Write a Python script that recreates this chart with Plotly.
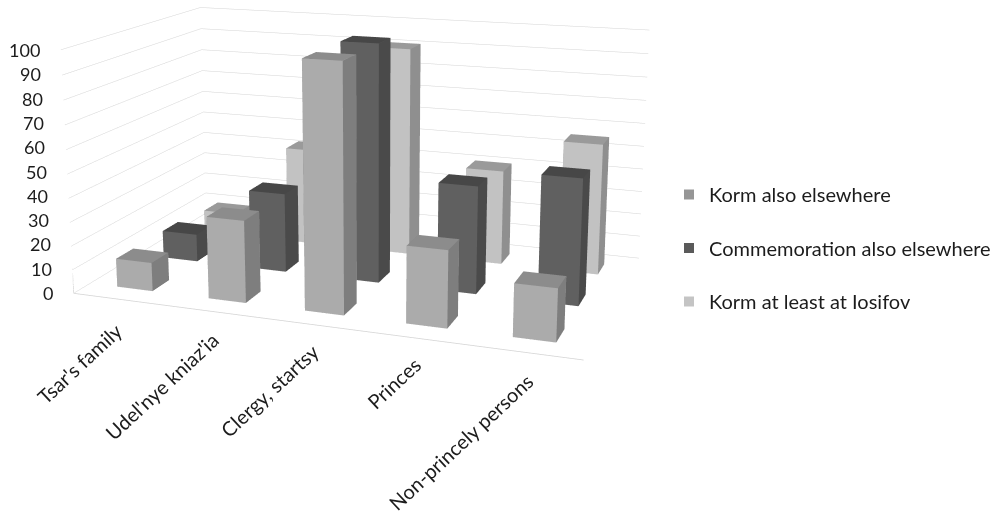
import numpy as np
import plotly.graph_objects as go

categories = ["Tsar's family", "Udel'nye kniaz'ia", "Clergy, startsy", "Princes", "Non-princely persons"]
series_names = ["Korm also elsewhere", "Commemoration also elsewhere", "Korm at least at Iosifov"]
korm_elsewhere = [12, 34, 100, 31, 21]
commemoration = [12, 34, 100, 45, 52]
korm_iosifov = [10, 43, 91, 41, 56]
value_ticks = list(range(0, 101, 10))

X_RANGE = (-0.5, 4.5)
Y_RANGE = (-0.5, 2.5)
Z_RANGE = (0, 100)
BAR_HALF_X = 0.196
BAR_HALF_Y = 0.177

# front, side, top shade of each row and its legend swatch
ROW_SHADES = [("#ababab", "#7e7e7e", "#8c8c8c"), ("#606060", "#4a4a4a", "#474747"), ("#c2c2c2", "#8f8f8f", "#9a9a9a")]
SWATCHES = ["#969696", "#5a5a5a", "#c4c4c4"]
GRID = "#d4d4d4"
FONT = "Lato"
TEXT = "#1c1c1c"

# The scene is taller than the page: its vertical field of view is fixed, so a long
# focal length needs a tall viewport, and the page shows only part of it.
FIG_W, FIG_H = 996, 1172
PAGE_TOP = 444
SCENE_W = 695


def paper(px, py):
    return px / FIG_W, 1 - (py + PAGE_TOP) / FIG_H


def bars(values, row, shades, name):
    xs, ys, zs, i, j, k, colors = [], [], [], [], [], [], []
    front, side, top = shades
    for col, value in enumerate(values):
        n = len(xs)
        for z in (0, value):
            for y in (row - BAR_HALF_Y, row + BAR_HALF_Y):
                for x in (col - BAR_HALF_X, col + BAR_HALF_X):
                    xs.append(x)
                    ys.append(y)
                    zs.append(z)
        faces = [((0, 1, 5), front), ((0, 5, 4), front), ((1, 3, 7), side), ((1, 7, 5), side),
                 ((4, 5, 7), top), ((4, 7, 6), top), ((0, 2, 6), side), ((0, 6, 4), side),
                 ((2, 3, 7), front), ((2, 7, 6), front), ((0, 1, 3), top), ((0, 3, 2), top)]
        for (a, b, c), shade in faces:
            i.append(n + a)
            j.append(n + b)
            k.append(n + c)
            colors.append(shade)
    return go.Mesh3d(x=xs, y=ys, z=zs, i=i, j=j, k=k, facecolor=colors, flatshading=True, name=name,
                     showlegend=False, hoverinfo="skip",
                     lighting=dict(ambient=1, diffuse=0, specular=0, roughness=1, fresnel=0))


fig = go.Figure()
for row, (values, name) in enumerate(zip([korm_elsewhere, commemoration, korm_iosifov], series_names)):
    fig.add_trace(bars(values, row, ROW_SHADES[row], name))
    fig.add_trace(go.Scatter3d(x=[None], y=[None], z=[None], mode="markers", name=name, legendgroup=name,
                               marker=dict(symbol="square", size=10, color=SWATCHES[row])))

# Left upright and the two near edges of the floor
fig.add_trace(go.Scatter3d(x=[X_RANGE[0], X_RANGE[0], X_RANGE[1], X_RANGE[1]],
                           y=[Y_RANGE[0], Y_RANGE[0], Y_RANGE[0], Y_RANGE[1]],
                           z=[Z_RANGE[1], 0, 0, 0], mode="lines",
                           line=dict(color=GRID, width=1.5), showlegend=False, hoverinfo="skip"))

axis = dict(showgrid=False, zeroline=False, showticklabels=False, ticks="", title="",
            showbackground=False, showspikes=False, showline=False)
eye = np.array([1.90262, -5.31442, 1.43437])
forward = np.array([-0.340164, 0.910764, -0.234089])
up = [-0.077592, 0.220901, 0.972205]
center = eye + forward * np.linalg.norm(eye)

tick_labels = [dict(text=str(v), x=paper(55.5 - 0.135 * v, 0)[0], y=paper(0, 293 - 2.43 * v)[1],
                    xanchor="right", yanchor="middle", xref="paper", yref="paper", showarrow=False)
               for v in value_ticks]
label_centres = [(80, 363), (162, 386), (270, 390), (394, 383), (461, 442)]
category_labels = [dict(text=c, x=paper(px, py)[0], y=paper(px, py)[1], xanchor="center", yanchor="middle",
                        textangle=-43, font=dict(size=20), xref="paper", yref="paper", showarrow=False)
                   for c, (px, py) in zip(categories, label_centres)]

legend_x, legend_y = paper(670, 248)
fig.update_layout(
    width=FIG_W, height=FIG_H, margin=dict(l=0, r=0, t=0, b=0), paper_bgcolor="white",
    font=dict(family=FONT, size=18, color=TEXT),
    legend=dict(x=legend_x, y=legend_y, yanchor="middle", tracegroupgap=24.5, bgcolor="rgba(0,0,0,0)",
                font=dict(size=20)),
    annotations=tick_labels + category_labels,
    scene=dict(
        domain=dict(x=[0, SCENE_W / FIG_W], y=[0, 1]),
        dragmode="orbit",
        xaxis=dict(axis, range=list(X_RANGE)),
        yaxis=dict(axis, range=list(Y_RANGE)),
        zaxis=dict(axis, range=list(Z_RANGE), showgrid=True, gridcolor=GRID, gridwidth=1, tickvals=value_ticks),
        aspectmode="manual", aspectratio=dict(x=2.0795, y=1.2244, z=1),
        camera=dict(eye=dict(x=eye[0], y=eye[1], z=eye[2]),
                    center=dict(x=center[0], y=center[1], z=center[2]),
                    up=dict(x=up[0], y=up[1], z=up[2]),
                    projection=dict(type="perspective")),
    ),
)

shift_page = (
    "var gd = document.getElementById('{plot_id}');"
    "gd.style.position = 'absolute'; gd.style.left = '0'; gd.style.top = '-" + str(PAGE_TOP) + "px';"
    "document.documentElement.style.overflow = 'hidden'; document.body.style.overflow = 'hidden';"
)
fig.write_html("out.html", post_script=shift_page, config=dict(displayModeBar=False))
